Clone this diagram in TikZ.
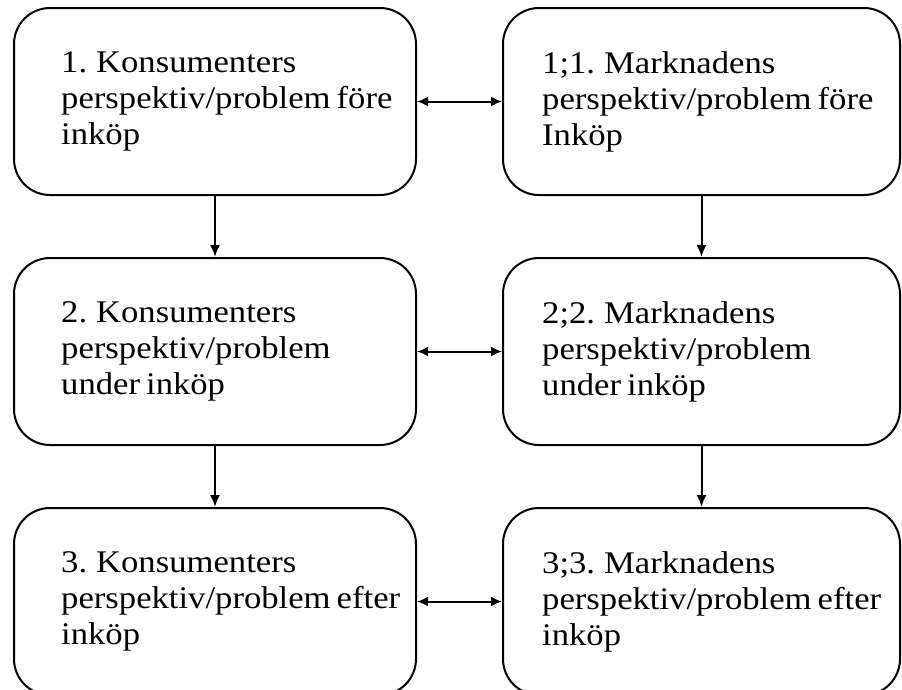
\documentclass[tikz,border=0pt]{standalone}
\usepackage{fontspec}
\setmainfont{Liberation Serif}[FakeStretch=1.1,WordSpace=0.7]
\usetikzlibrary{arrows.meta}
\tikzset{
  box/.style={draw, line width=2pt, rounded corners=36pt, minimum height=187pt},
  boxtext/.style={anchor=west, align=left, inner sep=0pt, font=\fontsize{31.5}{36}\selectfont},
  link/.style={line width=2pt, -{Latex[length=12pt,width=10pt]}},
  twoway/.style={line width=2pt, {Latex[length=11pt,width=10pt]}-{Latex[length=11pt,width=10pt]}}
}

\begin{document}
\begin{tikzpicture}[x=1pt,y=-1pt]
\useasboundingbox (0,0) rectangle (902,689);
\node[box, minimum width=402pt] (k1) at (215,101.5) {};
\node[box, minimum width=402pt] (k2) at (215,351.5) {};
\node[box, minimum width=402pt] (k3) at (215,601.5) {};
\node[box, minimum width=397pt] (m1) at (701.5,101.5) {};
\node[box, minimum width=397pt] (m2) at (701.5,351.5) {};
\node[box, minimum width=397pt] (m3) at (701.5,601.5) {};
\node[boxtext] (tk1) at ([xshift=48pt]k1.west) {1. Konsumenters\\perspektiv/problem före\\inköp};
\node[boxtext] (tk2) at ([xshift=48pt]k2.west) {2. Konsumenters\\perspektiv/problem\\under inköp};
\node[boxtext] (tk3) at ([xshift=48pt]k3.west) {3. Konsumenters\\perspektiv/problem efter\\inköp};
\node[boxtext] (tm1) at ([xshift=40pt]m1.west) {1;1. Marknadens\\perspektiv/problem före\\Inköp};
\node[boxtext] (tm2) at ([xshift=40pt]m2.west) {2;2. Marknadens\\perspektiv/problem\\under inköp};
\node[boxtext] (tm3) at ([xshift=40pt]m3.west) {3;3. Marknadens\\perspektiv/problem efter\\inköp};
\draw[twoway] (k1.east) -- (m1.west);
\draw[twoway] (k2.east) -- (m2.west);
\draw[twoway] (k3.east) -- (m3.west);
\draw[link] (k1.south) -- (k2.north);
\draw[link] (k2.south) -- (k3.north);
\draw[link] (m1.south) -- (m2.north);
\draw[link] (m2.south) -- (m3.north);
\end{tikzpicture}
\end{document}
